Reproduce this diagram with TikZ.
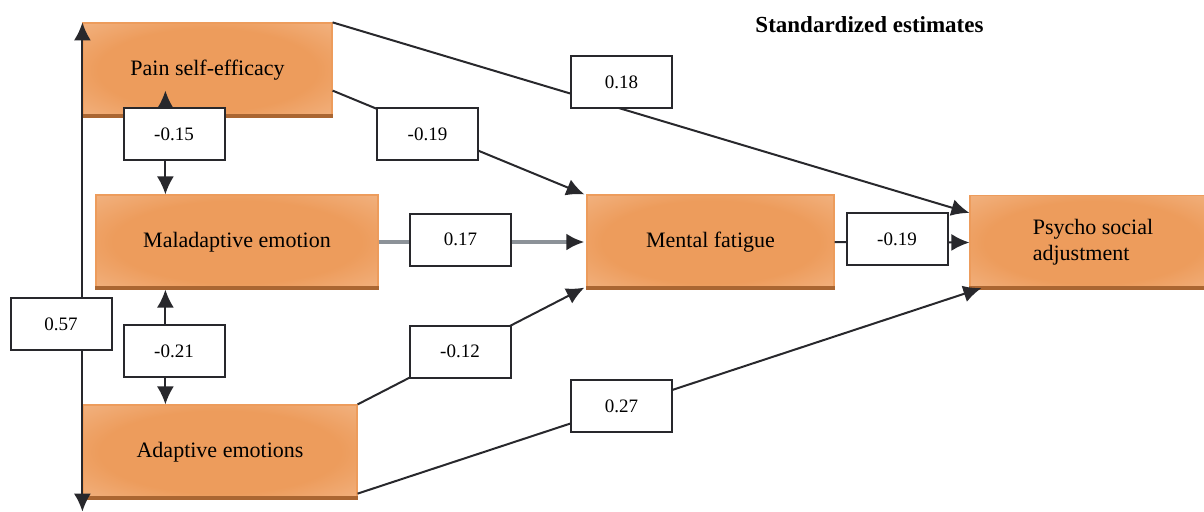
\documentclass[tikz,border=0pt]{standalone}
\usepackage{fontspec}
\setmainfont{Liberation Serif}
\usetikzlibrary{arrows.meta}
\definecolor{myorange}{RGB}{237,156,92}
\definecolor{lightorange}{RGB}{246,200,164}
\definecolor{mybrown}{RGB}{170,102,50}
\definecolor{darkline}{RGB}{40,40,44}
\definecolor{steelgray}{RGB}{140,146,152}
\pgfdeclareradialshading{boxglow}{\pgfpoint{0bp}{0bp}}{color(0bp)=(myorange); color(22bp)=(myorange); color(50bp)=(lightorange)}
\begin{document}
\begin{tikzpicture}[x=0.5pt, y=-0.5pt,
        >={Latex[length=9pt,width=8.5pt]},   %arrow tips
        factor/.style={rectangle, shade, shading=boxglow, draw=myorange, line width=0.6pt,
            minimum height=47pt, inner sep=0pt, font=\fontsize{11}{13}\selectfont},
        coef/.style={rectangle, draw=darkline, fill=white, line width=1pt, minimum width=50.5pt,
            minimum height=26pt, inner sep=0pt, font=\fontsize{9.5}{11}\selectfont},
        link/.style={darkline, line width=1pt},
        graylink/.style={steelgray, line width=1.6pt, -{Latex[length=9pt,width=8.5pt,color=darkline]}}]
        \useasboundingbox (0,0) rectangle (1204,511);
        % title
        \node[font=\bfseries\fontsize{11.5}{13}\selectfont] (title) at (869.5,25) {Standardized estimates};
        % variables
        \node[factor, minimum width=124.5pt] (pse) at (207.5,70) {Pain self-efficacy};
        \node[factor, minimum width=141pt] (mal) at (237,242) {Maladaptive emotion};
        \node[factor, minimum width=137pt] (ada) at (220,452) {Adaptive emotions};
        \node[factor, minimum width=123.5pt] (mf) at (710.5,242) {Mental fatigue};
        \node[factor, minimum width=123pt, align=left] (psa) at (1093,242.5) {Psycho social\\adjustment};
        % bottom edge of the boxes
        \foreach \n in {pse,mal,ada,mf,psa}
            \draw[mybrown, line width=2pt] ([yshift=1pt]\n.south west) -- ([yshift=1pt]\n.south east);
        % connectors
        \coordinate (p15) at ([xshift=41.5pt,yshift=13.5pt]pse.south west);
        \draw[link,<->] (pse.north west) -- ([yshift=-6pt]ada.south west);
        \draw[link,<->] (p15) -- (p15 |- mal.north);
        \draw[link,<->] (p15 |- mal.south) -- (p15 |- ada.north);
        \draw[link,->] (pse.north east) -- ([yshift=-9pt]psa.north west);
        \draw[link,->] ([yshift=13.5pt]pse.south east) -- ([xshift=-1pt]mf.north west);
        \draw[graylink] (mal.east) -- ([xshift=-1pt]mf.west);
        \draw[link,->] (ada.north east) -- ([xshift=-1pt,yshift=1pt]mf.south west);
        \draw[link,->] ([yshift=3pt]ada.south east) -- ([xshift=6pt,yshift=1pt]psa.south west);
        \draw[link,->] (mf.east) -- (psa.west);
        % estimates
        \node[coef] (l018) at (621.5,82) {0.18};
        \node[coef] (l019a) at (427.5,134) {-0.19};
        \node[coef] (l015) at (174,134) {-0.15};
        \node[coef] (l017) at (460.5,239.5) {0.17};
        \node[coef] (l019b) at (897,239) {-0.19};
        \node[coef] (l057) at (61,324) {0.57};
        \node[coef] (l021) at (174,351) {-0.21};
        \node[coef] (l012) at (460,351.5) {-0.12};
        \node[coef] (l027) at (621.5,406) {0.27};
    \end{tikzpicture}
\end{document}
